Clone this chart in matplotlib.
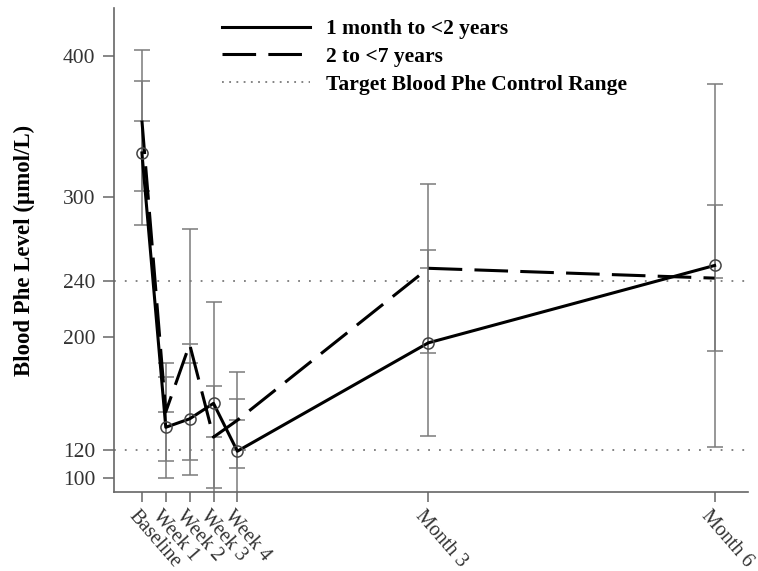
import matplotlib
matplotlib.use("Agg")
import matplotlib.pyplot as plt
import matplotlib.transforms as mtransforms
import numpy as np

# ---- data ----
visits = ["Baseline", "Week 1", "Week 2", "Week 3", "Week 4", "Month 3", "Month 6"]
visit_weeks = [0, 1, 2, 3, 4, 12, 24]

young_mean = [331, 136, 142, 153, 119, 196, 251]
young_err = [51, 36, 40, 72, 37, 66, 129]

older_mean = [354, 147, 195, 129, 141, 249, 242]
older_err = [50, 35, 82, 36, 34, 60, 52]

target_range = [120, 240]
yticks = [100, 120, 200, 240, 300, 400]

series_labels = ["1 month to <2 years", "2 to <7 years", "Target Blood Phe Control Range"]

# ---- figure ----
W, H = 758, 571
fig = plt.figure(figsize=(W / 100, H / 100), dpi=100)
ax = fig.add_axes([114 / W, 1 - 492 / H, (748 - 114) / W, (492 - 8) / H])

serif = "Liberation Serif"
grey = "#7a7a7a"

ebkw = dict(fmt="none", ecolor=grey, elinewidth=1.1, capsize=5.8, capthick=1.1, zorder=2)
ax.errorbar(visit_weeks, young_mean, yerr=young_err, **ebkw)
ax.errorbar(visit_weeks, older_mean, yerr=older_err, **ebkw)

for t in target_range:
    ax.axhline(t, color=grey, lw=1.3, linestyle=(0, (1, 5)), zorder=1)

l1, = ax.plot(visit_weeks, young_mean, color="black", lw=2.2, zorder=4,
              marker="o", markersize=8, markerfacecolor="none",
              markeredgecolor="#444444", markeredgewidth=1.1)
l2, = ax.plot(visit_weeks, older_mean, color="black", lw=2.2, zorder=3,
              linestyle=(0, (11, 4)))
ax.plot(visit_weeks, older_mean, linestyle="none", marker="_", markersize=11,
        markeredgecolor=grey, markeredgewidth=1.1, zorder=2)

ax.set_xlim(-1.17, 25.4)
ax.set_ylim(90, 434)

for s in ["top", "right"]:
    ax.spines[s].set_visible(False)
for s in ["left", "bottom"]:
    ax.spines[s].set_color("#666666")
    ax.spines[s].set_linewidth(1.2)

ax.set_yticks(yticks)
ax.set_yticklabels([str(v) for v in yticks], fontfamily=serif, fontsize=15.5, color="#333333")
ax.tick_params(axis="y", length=8, width=1.1, color="#666666", pad=5.5)

ax.set_xticks(visit_weeks)
ax.set_xticklabels(visits, fontfamily=serif, fontsize=14.5, color="#333333",
                   rotation=-49, ha="left", va="top", rotation_mode="anchor")
ax.tick_params(axis="x", length=7, width=1.1, color="#666666", pad=4)
shift = mtransforms.ScaledTranslation(-3 / 100, 0, fig.dpi_scale_trans)
for lab in ax.get_xticklabels():
    lab.set_transform(lab.get_transform() + shift)

ax.set_ylabel("Blood Phe Level (\u00b5mol/L)", fontfamily=serif, fontsize=16.5,
              fontweight="bold", labelpad=20)

dot_handle = matplotlib.lines.Line2D([], [], color=grey, lw=1.3, linestyle=(0, (1, 3)))
leg = fig.legend([l1, l2, dot_handle], series_labels,
                 loc="upper left", bbox_to_anchor=(222 / W, 1 - 19 / H),
                 frameon=False, borderpad=0, borderaxespad=0,
                 handlelength=4.1, handletextpad=0.75, labelspacing=0.36,
                 prop=dict(family=serif, size=15.5, weight="bold"))
for h in leg.legend_handles[:1]:
    h.set_marker("")

fig.savefig("out.png", dpi=100)
